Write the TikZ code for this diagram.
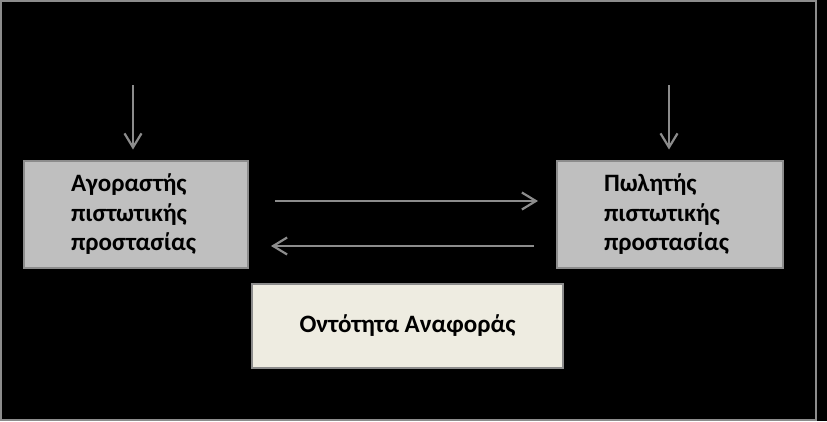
\documentclass[tikz,border=0pt]{standalone}
\usepackage{fontspec}
\setmainfont{Carlito}
\usetikzlibrary{arrows.meta}
\definecolor{boxgray}{HTML}{BFBFBF}
\definecolor{edgegray}{HTML}{8C8C8C}
\definecolor{refbeige}{HTML}{EEECE1}
\tikzset{
  partybox/.style={draw=edgegray, line width=2pt, fill=boxgray, minimum height=107pt,
    inner xsep=47pt, inner ysep=0pt, align=left,
    font=\fontsize{25}{29.5}\selectfont\bfseries},
  refbox/.style={draw=edgegray, line width=2pt, fill=refbeige, minimum width=311pt, minimum height=84pt,
    font=\fontsize{25}{29.5}\selectfont\bfseries},
  flow/.style={draw=edgegray, line width=2.2pt, -{Straight Barb[length=14pt,width=17pt,line width=2.2pt]}}
}
\begin{document}
\begin{tikzpicture}[x=1pt,y=-1pt]
\useasboundingbox (0,0) rectangle (827,421);
\fill[black] (0,0) rectangle (827,421);
\draw[edgegray, line width=2pt] (1,1) rectangle (815.5,420);

\node[partybox, text width=130pt] (buyer) at (136,214.5) {Αγοραστής\\πιστωτικής\\προστασίας};
\node[partybox, text width=132pt] (seller) at (670,214.5) {Πωλητής\\πιστωτικής\\προστασίας};
\node[refbox] (ref) at (407.5,326) {Οντότητα Αναφοράς};

\coordinate (bin) at (133,85);
\coordinate (sin) at (669,85);
\draw[flow] (bin) -- ([yshift=10.5pt]buyer.north -| bin);
\draw[flow] (sin) -- ([yshift=10.5pt]seller.north -| sin);
\draw[flow] ([xshift=26pt,yshift=13.5pt]buyer.east) -- ([xshift=-18pt,yshift=13.5pt]seller.west);
\draw[flow] ([xshift=-22pt,yshift=-31.5pt]seller.west) -- ([xshift=22pt,yshift=-31.5pt]buyer.east);
\end{tikzpicture}
\end{document}
